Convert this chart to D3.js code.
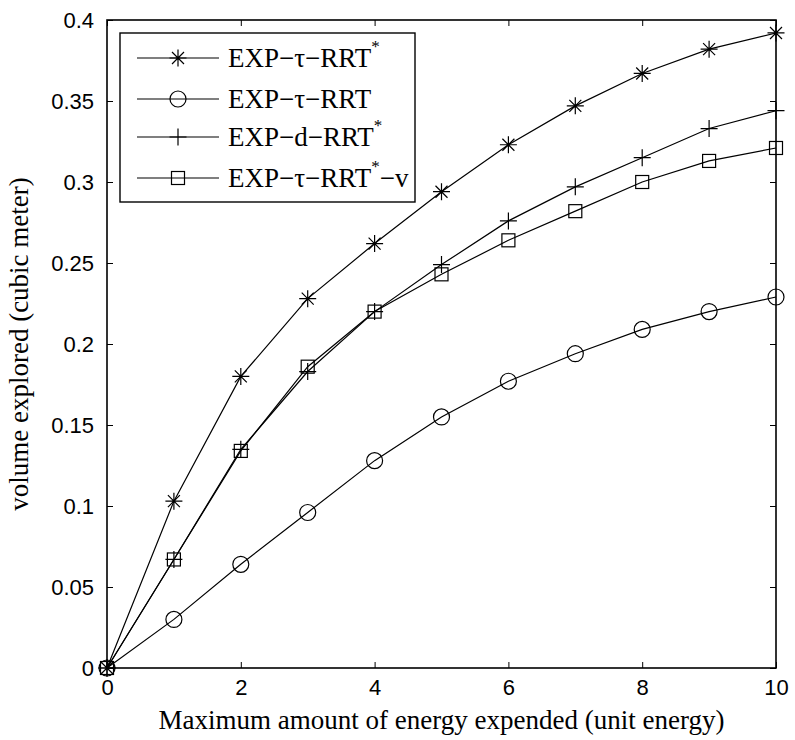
<!DOCTYPE html>
<html>
<head>
<meta charset="utf-8">
<script src="https://cdn.jsdelivr.net/npm/d3@7"></script>
<style>
  html, body { margin: 0; padding: 0; background: #fff; }
  svg { display: block; }
</style>
</head>
<body>
<svg id="chart" width="795" height="740"></svg>
<script>
// Energy budget (unit energy)
const energy = [0, 1, 2, 3, 4, 5, 6, 7, 8, 9, 10];

// Volume explored (cubic meter) for each planner
const expTauRrtStar  = [0, 0.103, 0.180, 0.228, 0.262, 0.294, 0.323, 0.347, 0.367, 0.382, 0.392];
const expTauRrt      = [0, 0.030, 0.064, 0.096, 0.128, 0.155, 0.177, 0.194, 0.209, 0.220, 0.229];
const expDRrtStar    = [0, 0.067, 0.135, 0.183, 0.220, 0.249, 0.276, 0.297, 0.315, 0.333, 0.344];
const expTauRrtStarV = [0, 0.067, 0.134, 0.186, 0.220, 0.243, 0.264, 0.282, 0.300, 0.313, 0.321];

const xTicks = [0, 2, 4, 6, 8, 10];
const yTicks = [0, 0.05, 0.1, 0.15, 0.2, 0.25, 0.3, 0.35, 0.4];
const yTickLabels = ["0", "0.05", "0.1", "0.15", "0.2", "0.25", "0.3", "0.35", "0.4"];

const series = [
  { base: "EXP\u2212\u03C4\u2212RRT", sup: "*", tail: "",        marker: "star",   values: expTauRrtStar },
  { base: "EXP\u2212\u03C4\u2212RRT", sup: "",  tail: "",        marker: "circle", values: expTauRrt },
  { base: "EXP\u2212d\u2212RRT",      sup: "*", tail: "",        marker: "plus",   values: expDRrtStar },
  { base: "EXP\u2212\u03C4\u2212RRT", sup: "*", tail: "\u2212v", marker: "square", values: expTauRrtStarV }
];

(function () {
  const svg = d3.select("#chart");
  const plotL = 107, plotR = 776, plotT = 20, plotB = 668;

  const x = d3.scaleLinear().domain([0, 10]).range([plotL, plotR]);
  const y = d3.scaleLinear().domain([0, 0.4]).range([plotB, plotT]);

  const sansFont = "'Liberation Sans', Arial, Helvetica, sans-serif";
  const serifFont = "'Liberation Serif', 'Times New Roman', Times, serif";

  // Axes with inward ticks on all four sides
  const tickLen = 6;
  const axisBottom = d3.axisBottom(x).tickValues(xTicks).tickSizeInner(-tickLen).tickSizeOuter(0).tickPadding(11);
  const axisTop = d3.axisTop(x).tickValues(xTicks).tickSizeInner(-tickLen).tickSizeOuter(0).tickFormat("");
  const axisLeft = d3.axisLeft(y).tickValues(yTicks).tickSizeInner(-tickLen).tickSizeOuter(0).tickPadding(13)
    .tickFormat((d, i) => yTickLabels[i]);
  const axisRight = d3.axisRight(y).tickValues(yTicks).tickSizeInner(-tickLen).tickSizeOuter(0).tickFormat("");

  function styleAxis(g) {
    g.select(".domain").remove();
    g.selectAll(".tick line").attr("stroke", "#000").attr("stroke-width", 1);
    g.selectAll(".tick text").attr("fill", "#000").style("font-family", sansFont).style("font-size", "22px");
  }

  svg.append("g").attr("transform", `translate(0,${plotB})`).call(axisBottom).call(styleAxis);
  svg.append("g").attr("transform", `translate(0,${plotT})`).call(axisTop).call(styleAxis);
  svg.append("g").attr("transform", `translate(${plotL},0)`).call(axisLeft).call(styleAxis);
  svg.append("g").attr("transform", `translate(${plotR},0)`).call(axisRight).call(styleAxis);

  // Plot frame
  svg.append("rect")
    .attr("x", plotL).attr("y", plotT)
    .attr("width", plotR - plotL).attr("height", plotB - plotT)
    .attr("fill", "none").attr("stroke", "#000").attr("stroke-width", 1.6);

  // Axis titles
  svg.append("text")
    .attr("x", (plotL + plotR) / 2).attr("y", 729)
    .attr("text-anchor", "middle")
    .style("font-family", serifFont).style("font-size", "27px")
    .text("Maximum amount of energy expended (unit energy)");

  svg.append("text")
    .attr("transform", `translate(28,${(plotT + plotB) / 2}) rotate(-90)`)
    .attr("text-anchor", "middle")
    .style("font-family", serifFont).style("font-size", "27px")
    .text("volume explored (cubic meter)");

  // Marker drawing
  function drawMarker(g, type, cx, cy) {
    const s = "#000", w = 1.2;
    if (type === "circle") {
      g.append("circle").attr("cx", cx).attr("cy", cy).attr("r", 8)
        .attr("fill", "none").attr("stroke", s).attr("stroke-width", w);
    } else if (type === "square") {
      const h = 6.5;
      g.append("rect").attr("x", cx - h).attr("y", cy - h).attr("width", 2 * h).attr("height", 2 * h)
        .attr("fill", "none").attr("stroke", s).attr("stroke-width", w);
    } else if (type === "plus") {
      const h = 8.5;
      g.append("path").attr("d", `M${cx - h},${cy}H${cx + h}M${cx},${cy - h}V${cy + h}`)
        .attr("fill", "none").attr("stroke", s).attr("stroke-width", w);
    } else if (type === "star") {
      const h = 8.5, d = 6;
      g.append("path").attr("d",
        `M${cx - h},${cy}H${cx + h}M${cx},${cy - h}V${cy + h}` +
        `M${cx - d},${cy - d}L${cx + d},${cy + d}M${cx - d},${cy + d}L${cx + d},${cy - d}`)
        .attr("fill", "none").attr("stroke", s).attr("stroke-width", w);
    }
  }

  const line = d3.line().x((d, i) => x(energy[i])).y(d => y(d));

  series.forEach(sr => {
    const g = svg.append("g");
    g.append("path").datum(sr.values).attr("d", line)
      .attr("fill", "none").attr("stroke", "#000").attr("stroke-width", 1.2);
    sr.values.forEach((v, i) => drawMarker(g, sr.marker, x(energy[i]), y(v)));
  });

  // Legend
  const legX = 120, legY = 33, legW = 295, legH = 169;
  const legend = svg.append("g");
  legend.append("rect").attr("x", legX).attr("y", legY).attr("width", legW).attr("height", legH)
    .attr("fill", "#fff").attr("stroke", "#000").attr("stroke-width", 1.4);

  const rowY = [58, 99, 137, 178];
  series.forEach((sr, i) => {
    const yy = rowY[i];
    legend.append("line").attr("x1", 137).attr("x2", 219).attr("y1", yy).attr("y2", yy)
      .attr("stroke", "#000").attr("stroke-width", 1.2);
    drawMarker(legend, sr.marker, 178, yy);
    const t = legend.append("text").attr("x", 228).attr("y", yy + 9)
      .attr("fill", "#000")
      .style("font-family", serifFont).style("font-size", "27px");
    t.append("tspan").text(sr.base);
    if (sr.sup) {
      t.append("tspan").attr("dy", -15).attr("fill", "#000").style("font-size", "17px").text(sr.sup);
    }
    if (sr.tail) {
      t.append("tspan").attr("dy", sr.sup ? 15 : 0).text(sr.tail);
    }
  });
})();
</script>
</body>
</html>
